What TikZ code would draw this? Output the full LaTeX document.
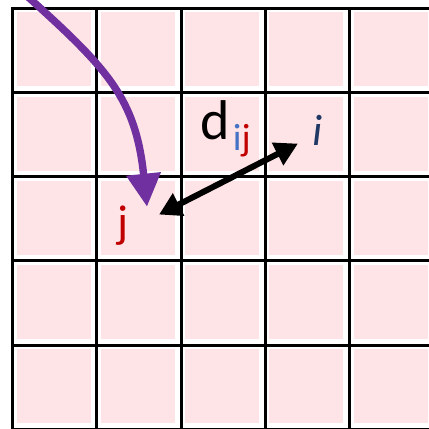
\documentclass[tikz,border=0pt]{standalone}
\usepackage{fontspec}
\setmainfont{Carlito}
\usepackage{xcolor}
\usetikzlibrary{arrows.meta}
\definecolor{cellpink}{RGB}{255,228,231}
\definecolor{movepurple}{RGB}{112,48,160}
\definecolor{idxblue}{RGB}{68,114,196}
\definecolor{idxred}{RGB}{192,0,0}
\definecolor{inavy}{RGB}{32,56,100}

\begin{document}
\begin{tikzpicture}[
        x=42.1pt, y=42.1pt,
        cell/.style={fill=cellpink},
        gridline/.style={line width=1.5pt, line cap=rect},
        txt/.style={inner sep=0pt, anchor=base, font=\fontsize{23}{27}\selectfont},
        dist/.style={{Triangle[length=11pt,width=12pt]}-{Triangle[length=11.5pt,width=12pt]}, line width=3pt},
        move/.style={-{Triangle[length=16.5pt,width=16.5pt]}, line width=3.7pt, draw=movepurple}
    ]
        \path[use as bounding box, clip] (-0.152,0.099) rectangle (4.943,-4.985);
        \def\gap{0.048}
        \def\side{0.878}

        \foreach \c in {0,...,4}
            \foreach \r in {0,...,4}
                \fill[cell] (\c+\gap, -\r-\gap) rectangle ++(\side, -\side);
        \foreach \k in {0,...,5} {
            \draw[gridline] (\k,0) -- (\k,-5);
            \draw[gridline] (0,-\k) -- (5,-\k);
        }

        \node[txt, text=idxred] (j) at (1.309,-2.716) {j};
        \node[txt, text=inavy, font=\fontsize{22}{26}\selectfont\itshape] (i) at (3.625,-1.624) {i};
        \node[txt, anchor=base west, font=\fontsize{28}{32}\selectfont] (dij) at (2.225,-1.552)
            {d\hspace{1.5pt}\raisebox{-5.5pt}{\fontsize{19}{22}\selectfont\textcolor{idxblue}{i}\textcolor{idxred}{j}}};

        \coordinate (src) at (0.17,0.145);
        \draw[move] (src) to[out=-42, in=96, looseness=1.15] ([shift={(0.285,0.36)}]j.base);
        \draw[dist] ([shift={(0.428,0.267)}]j.base) -- ([shift={(-0.238,0.018)}]i.base);
    \end{tikzpicture}
\end{document}
